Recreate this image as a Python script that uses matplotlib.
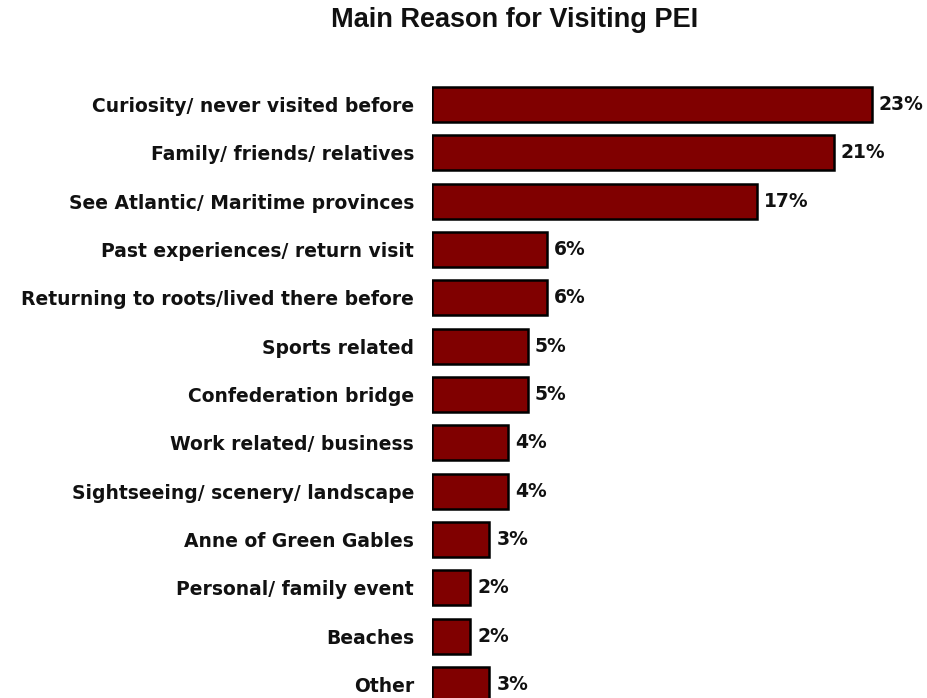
import matplotlib.pyplot as plt

categories = ['Curiosity/ never visited before', 'Family/ friends/ relatives',
              'See Atlantic/ Maritime provinces', 'Past experiences/ return visit',
              'Returning to roots/lived there before', 'Sports related',
              'Confederation bridge', 'Work related/ business',
              'Sightseeing/ scenery/ landscape', 'Anne of Green Gables',
              'Personal/ family event', 'Beaches', 'Other']
values = [23, 21, 17, 6, 6, 5, 5, 4, 4, 3, 2, 2, 3]

fig = plt.figure(figsize=(9.27, 6.98), dpi=100)
row = 48.33
top = 104.5 - row / 2
ax = fig.add_axes([432 / 927, 0.0, 478 / 927, 1 - top / 698])

pos = list(range(len(categories)))
ax.barh(pos, values, height=0.72, color='#800000', edgecolor='black', linewidth=1.8)
for p, v in zip(pos, values):
    ax.annotate(f'{v}%', (v, p), xytext=(5, 0), textcoords='offset points',
                va='center', ha='left', fontsize=13.5, fontweight='bold',
                family='DejaVu Sans', color='#111111')

ax.set_xlim(0, 25)
ax.set_ylim(-0.5 + (698 - top) / row, -0.5)
ax.set_yticks(pos)
ax.set_yticklabels(categories, fontsize=13.5, fontweight='bold', color='#111111')
ax.tick_params(axis='y', length=0, pad=13)
ax.set_xticks([])
for s in ax.spines.values():
    s.set_visible(False)

fig.text(515 / 927, 1 - 20 / 698, 'Main Reason for Visiting PEI', ha='center', va='center',
         fontsize=19.5, fontweight='bold', family='Liberation Sans', color='#111111')

fig.savefig('out.png', dpi=100)
